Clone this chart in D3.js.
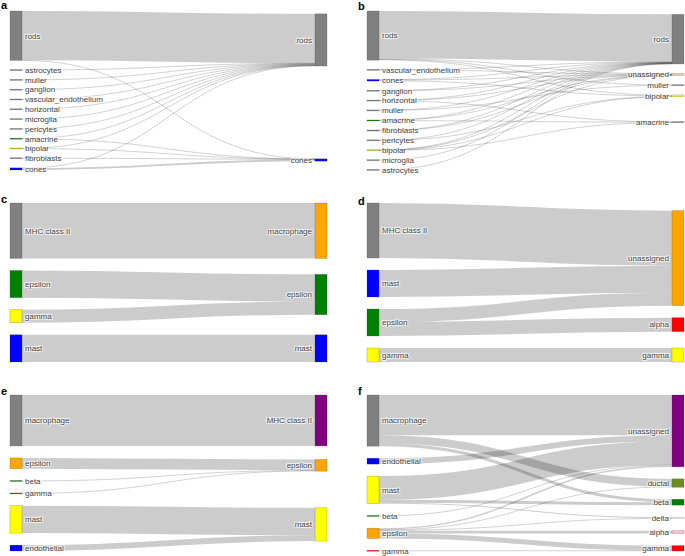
<!DOCTYPE html>
<html>
<head>
<meta charset="utf-8">
<script src="https://cdn.jsdelivr.net/npm/d3@7"></script>
<style>
  body { margin: 0; background: #fff; }
  svg { display: block; }
  .lbl {
    font-family: "Liberation Sans", Arial, sans-serif;
    font-size: 8px;
    fill: #444;
    text-shadow: 1px 1px 1px #fff, -1px -1px 1px #fff, 1px -1px 1px #fff, -1px 1px 1px #fff;
  }
  .tag { font-family: "Liberation Sans", Arial, sans-serif; font-size: 11px; font-weight: bold; fill: #000; }
</style>
</head>
<body>
<svg id="chart" width="685" height="556"></svg>
<script>
// ---------- data ----------
// a
var aLeft = ["rods", "astrocytes", "muller", "ganglion", "vascular_endothelium", "horizontal",
             "microglia", "pericytes", "amacrine", "bipolar", "fibroblasts", "cones"];
var aRight = ["rods", "cones"];
var aLinks = [
  ["rods", "rods", 485], ["rods", "cones", 1],
  ["astrocytes", "rods", 3], ["muller", "rods", 3], ["ganglion", "rods", 3],
  ["vascular_endothelium", "rods", 3], ["horizontal", "rods", 3], ["microglia", "rods", 3],
  ["pericytes", "rods", 3],
  ["amacrine", "rods", 2], ["amacrine", "cones", 1],
  ["bipolar", "rods", 2], ["bipolar", "cones", 1],
  ["fibroblasts", "cones", 2],
  ["cones", "rods", 3], ["cones", "cones", 18]
];
// b
var bLeft = ["rods", "vascular_endothelium", "cones", "ganglion", "horizontal", "muller",
             "amacrine", "fibroblasts", "pericytes", "bipolar", "microglia", "astrocytes"];
var bRight = ["rods", "unassigned", "muller", "bipolar", "amacrine"];
var bLinks = [
  ["rods", "rods", 470], ["rods", "unassigned", 8], ["rods", "muller", 3], ["rods", "bipolar", 6],
  ["vascular_endothelium", "rods", 2], ["vascular_endothelium", "unassigned", 1],
  ["cones", "rods", 4], ["cones", "unassigned", 4], ["cones", "bipolar", 8],
  ["ganglion", "rods", 2], ["ganglion", "unassigned", 1],
  ["horizontal", "rods", 2], ["horizontal", "unassigned", 1], ["horizontal", "amacrine", 1],
  ["muller", "rods", 1], ["muller", "muller", 2],
  ["amacrine", "rods", 2], ["amacrine", "unassigned", 2], ["amacrine", "amacrine", 4],
  ["fibroblasts", "rods", 2], ["fibroblasts", "unassigned", 1],
  ["pericytes", "rods", 2], ["pericytes", "bipolar", 1],
  ["bipolar", "rods", 1], ["bipolar", "unassigned", 1], ["bipolar", "bipolar", 3], ["bipolar", "amacrine", 1],
  ["microglia", "rods", 2],
  ["astrocytes", "rods", 2]
];
// c
var cLeft = ["MHC class II", "epsilon", "gamma", "mast"];
var cRight = ["macrophage", "epsilon", "mast"];
var cLinks = [
  ["MHC class II", "macrophage", 550], ["epsilon", "epsilon", 270],
  ["gamma", "epsilon", 130], ["mast", "mast", 270]
];
// d
var dLeft = ["MHC class II", "mast", "epsilon", "gamma"];
var dRight = ["unassigned", "alpha", "gamma"];
var dLinks = [
  ["MHC class II", "unassigned", 550], ["mast", "unassigned", 270],
  ["epsilon", "unassigned", 130], ["epsilon", "alpha", 140], ["gamma", "gamma", 140]
];
// e
var eLeft = ["macrophage", "epsilon", "beta", "gamma", "mast", "endothelial"];
var eRight = ["MHC class II", "epsilon", "mast"];
var eLinks = [
  ["macrophage", "MHC class II", 520], ["epsilon", "epsilon", 110], ["beta", "epsilon", 5],
  ["gamma", "epsilon", 5], ["mast", "mast", 280], ["endothelial", "mast", 60]
];
// f
var fLeft = ["macrophage", "endothelial", "mast", "beta", "epsilon", "gamma"];
var fRight = ["unassigned", "ductal", "beta", "delta", "alpha", "gamma"];
var fLinks = [
  ["macrophage", "unassigned", 410], ["macrophage", "ductal", 80], ["macrophage", "beta", 30],
  ["endothelial", "unassigned", 60],
  ["mast", "unassigned", 240], ["mast", "beta", 30], ["mast", "delta", 10],
  ["beta", "unassigned", 5],
  ["epsilon", "unassigned", 15], ["epsilon", "ductal", 5], ["epsilon", "delta", 5],
  ["epsilon", "alpha", 30], ["epsilon", "gamma", 50],
  ["gamma", "gamma", 5]
];

// node colours (same order as the node lists)
var grey = "#808080";
var aLeftColor = [grey, grey, grey, grey, grey, grey, grey, grey, "green", "#d8d820", grey, "blue"];
var aRightColor = [grey, "blue"];
var bLeftColor = [grey, grey, "blue", grey, grey, grey, "green", grey, grey, "#d8d820", grey, grey];
var bRightColor = [grey, "#f5c9a3", grey, "yellow", grey];
var cLeftColor = [grey, "green", "yellow", "blue"];
var cRightColor = ["orange", "green", "blue"];
var dLeftColor = [grey, "blue", "green", "yellow"];
var dRightColor = ["orange", "red", "yellow"];
var eLeftColor = [grey, "orange", "green", "red", "yellow", "blue"];
var eRightColor = ["purple", "orange", "yellow"];
var fLeftColor = [grey, "blue", "yellow", "green", "orange", "red"];
var fRightColor = ["purple", "olivedrab", "green", "white", "pink", "red"];

// ---------- layout of the six panels ----------
var nodeW = 12;
var panels = [
  {tag: "a", tx: 1, ty: 9, x0: 10, x1: 327, y0: 11, y1: 170, pad: 9.5,
   left: aLeft, right: aRight, links: aLinks, lc: aLeftColor, rc: aRightColor},
  {tag: "b", tx: 358, ty: 10, x0: 367, x1: 684, y0: 11, y1: 170, pad: 9.5,
   left: bLeft, right: bRight, links: bLinks, lc: bLeftColor, rc: bRightColor},
  {tag: "c", tx: 1, ty: 203, x0: 10, x1: 327, y0: 203, y1: 362, pad: 12,
   left: cLeft, right: cRight, links: cLinks, lc: cLeftColor, rc: cRightColor},
  {tag: "d", tx: 358, ty: 205, x0: 367, x1: 684, y0: 203, y1: 362, pad: 12,
   left: dLeft, right: dRight, links: dLinks, lc: dLeftColor, rc: dRightColor},
  {tag: "e", tx: 1, ty: 395, x0: 10, x1: 327, y0: 395, y1: 551, pad: 12,
   left: eLeft, right: eRight, links: eLinks, lc: eLeftColor, rc: eRightColor},
  {tag: "f", tx: 358, ty: 395, x0: 367, x1: 684, y0: 395, y1: 551, pad: 12,
   left: fLeft, right: fRight, links: fLinks, lc: fLeftColor, rc: fRightColor}
];

var svg = d3.select("#chart");

function layout(p) {
  var left = p.left.map(function (d, i) { return {name: d, col: 0, color: p.lc[i], out: [], inn: []}; });
  var right = p.right.map(function (d, i) { return {name: d, col: 1, color: p.rc[i], out: [], inn: []}; });
  var links = p.links.map(function (l) {
    var s = left.find(function (n) { return n.name === l[0]; });
    var t = right.find(function (n) { return n.name === l[1]; });
    var lk = {source: s, target: t, value: l[2]};
    s.out.push(lk);
    t.inn.push(lk);
    return lk;
  });
  var nodes = left.concat(right);
  nodes.forEach(function (n) {
    n.value = Math.max(d3.sum(n.out, function (l) { return l.value; }),
                       d3.sum(n.inn, function (l) { return l.value; }));
  });

  // value -> pixels, the most crowded column fills the height
  var H = p.y1 - p.y0;
  var ky = d3.min([left, right], function (col) {
    return (H - (col.length - 1) * p.pad) / d3.sum(col, function (n) { return n.value; });
  });
  var h = d3.scaleLinear().domain([0, 1]).range([0, ky]);

  // left column stacked
  var yy = p.y0;
  left.forEach(function (n) {
    n.y0 = yy; n.y1 = yy + h(n.value); yy = n.y1 + p.pad;
  });

  // right column: weighted centre of its sources
  right.forEach(function (n) {
    var c = d3.sum(n.inn, function (l) { return l.value * (l.source.y0 + l.source.y1) / 2; }) /
            d3.sum(n.inn, function (l) { return l.value; });
    var hh = h(n.value);
    n.y0 = c - hh / 2; n.y1 = c + hh / 2;
  });
  // collisions: push down, then back up from the bottom
  var y = p.y0;
  right.forEach(function (n) {
    var dy = y - n.y0;
    if (dy > 0) { n.y0 += dy; n.y1 += dy; }
    y = n.y1 + p.pad;
  });
  if (y - p.pad > p.y1) {
    y = p.y1;
    for (var i = right.length - 1; i >= 0; i--) {
      var n = right[i], dd = n.y1 - y;
      if (dd > 0) { n.y0 -= dd; n.y1 -= dd; }
      y = n.y0 - p.pad;
    }
  }

  // link offsets inside nodes
  left.forEach(function (n) {
    n.out.sort(function (a, b) { return a.target.y0 - b.target.y0; });
    var y = n.y0;
    n.out.forEach(function (l) { l.width = h(l.value); l.sy = y + l.width / 2; y += l.width; });
  });
  right.forEach(function (n) {
    n.inn.sort(function (a, b) { return a.source.y0 - b.source.y0; });
    var y = n.y0;
    n.inn.forEach(function (l) { l.ty = y + l.width / 2; y += l.width; });
  });

  return {nodes: nodes, links: links};
}

panels.forEach(function (p) {
  var res = layout(p);
  var x = d3.scaleLinear().domain([0, 1]).range([p.x0, p.x1 - nodeW]);
  var g = svg.append("g");

  var linkGen = d3.linkHorizontal()
    .source(function (l) { return [x(0) + nodeW, l.sy]; })
    .target(function (l) { return [x(1), l.ty]; });

  g.append("g").selectAll("path").data(res.links).enter()
    .append("path")
    .attr("d", linkGen)
    .attr("fill", "none")
    .attr("stroke", "#000")
    .attr("stroke-opacity", 0.2)
    .attr("stroke-width", function (l) { return Math.max(l.width, 0.9); });

  g.append("g").selectAll("rect").data(res.nodes).enter()
    .append("rect")
    .attr("x", function (n) { return x(n.col); })
    .attr("width", nodeW)
    .attr("y", function (n) { return n.y1 - n.y0 < 1 ? (n.y0 + n.y1) / 2 - 0.5 : n.y0; })
    .attr("height", function (n) { return Math.max(n.y1 - n.y0, 1); })
    .style("fill", function (n) { return n.color; })
    .style("stroke", "rgba(68,68,68,0.45)")
    .style("stroke-width", 0.5);

  g.append("g").selectAll("text").data(res.nodes).enter()
    .append("text")
    .attr("class", "lbl")
    .attr("x", function (n) { return n.col === 0 ? x(0) + nodeW + 3 : x(1) - 3; })
    .attr("y", function (n) { return (n.y0 + n.y1) / 2; })
    .attr("dy", "0.35em")
    .attr("text-anchor", function (n) { return n.col === 0 ? "start" : "end"; })
    .text(function (n) { return n.name; });

  svg.append("text")
    .attr("class", "tag")
    .attr("x", p.tx)
    .attr("y", p.ty)
    .text(p.tag);
});
</script>
</body>
</html>
